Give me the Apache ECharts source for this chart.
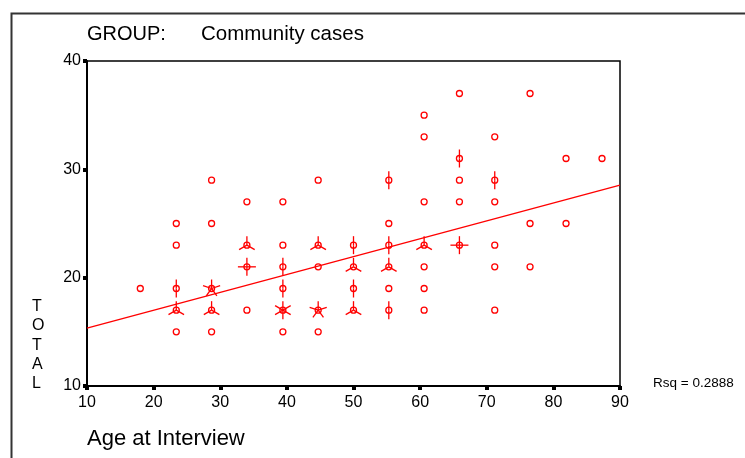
<!DOCTYPE html>
<html>
<head>
<meta charset="utf-8">
<script src="https://cdn.jsdelivr.net/npm/echarts@6/dist/echarts.min.js"></script>
<style>
  html, body { margin: 0; padding: 0; background: #fff; }
  #main { width: 745px; height: 458px; }
</style>
</head>
<body>
<div id="main"></div>
<script>
// sunflower points: age bin, total bin, number of cases (petals)
const ages = [
  18,
  23.4, 23.4, 23.4, 23.4, 23.4,
  28.7, 28.7, 28.7, 28.7, 28.7,
  34, 34, 34, 34,
  39.4, 39.4, 39.4, 39.4, 39.4, 39.4,
  44.7, 44.7, 44.7, 44.7, 44.7,
  50, 50, 50, 50,
  55.3, 55.3, 55.3, 55.3, 55.3, 55.3,
  60.6, 60.6, 60.6, 60.6, 60.6, 60.6, 60.6,
  65.9, 65.9, 65.9, 65.9, 65.9,
  71.2, 71.2, 71.2, 71.2, 71.2, 71.2,
  76.5, 76.5, 76.5,
  81.9, 81.9,
  87.3
];
const totals = [
  19,
  25, 23, 19, 17, 15,
  29, 25, 19, 17, 15,
  27, 23, 21, 17,
  27, 23, 21, 19, 17, 15,
  29, 23, 21, 17, 15,
  23, 21, 19, 17,
  29, 25, 23, 21, 19, 17,
  35, 33, 27, 23, 21, 19, 17,
  37, 31, 29, 27, 23,
  33, 29, 27, 23, 21, 17,
  37, 25, 21,
  31, 25,
  31
];
const counts = [
  1,
  1, 1, 2, 3, 1,
  1, 1, 5, 3, 1,
  1, 3, 4, 1,
  1, 1, 2, 2, 6, 1,
  1, 3, 1, 5, 1,
  2, 3, 2, 3,
  2, 1, 2, 3, 1, 2,
  1, 1, 1, 3, 1, 1, 1,
  1, 2, 1, 1, 4,
  1, 2, 1, 1, 1, 1,
  1, 1, 1,
  1, 1,
  1
];
// fitted line end points
const fitX = [10, 90];
const fitY = [15.35, 28.55];
const xTicks = [10, 20, 30, 40, 50, 60, 70, 80, 90];
const yTicks = [10, 20, 30, 40];

const RED = '#ff0000';
const FONT = 'Liberation Sans';

let chart = echarts.init(document.getElementById('main'));

const flowerData = ages.map((a, i) => [a, totals[i], counts[i]]);

function renderFlower(params, api) {
  const p = api.coord([api.value(0), api.value(1)]);
  const n = api.value(2);
  const kids = [{
    type: 'circle',
    shape: { cx: p[0], cy: p[1], r: 3 },
    style: { fill: null, stroke: RED, lineWidth: 1.3 }
  }];
  if (n > 1) {
    for (let k = 0; k < n; k++) {
      const ang = k * 2 * Math.PI / n;
      kids.push({
        type: 'line',
        shape: { x1: p[0], y1: p[1], x2: p[0] + 9 * Math.sin(ang), y2: p[1] - 9 * Math.cos(ang) },
        style: { stroke: RED, lineWidth: 1.3 }
      });
    }
  }
  return { type: 'group', children: kids };
}

chart.setOption({
  backgroundColor: '#fff',
  animation: false,
  textStyle: { fontFamily: FONT },
  grid: {
    left: 87, right: 125, top: 61, bottom: 72,
    show: true, borderColor: '#000', borderWidth: 1.5
  },
  xAxis: {
    type: 'value', min: 10, max: 90, interval: 10,
    axisLine: { show: true, lineStyle: { color: '#000', width: 2 } },
    axisTick: { show: true, length: 4, lineStyle: { color: '#000', width: 4 } },
    splitLine: { show: false },
    axisLabel: {
      color: '#000', fontSize: 16, fontFamily: FONT, margin: 9,
      formatter: v => xTicks.includes(v) ? String(v) : ''
    }
  },
  yAxis: {
    type: 'value', min: 10, max: 40, interval: 10,
    axisLine: { show: true, lineStyle: { color: '#000', width: 2 } },
    axisTick: { show: true, length: 4, lineStyle: { color: '#000', width: 4 } },
    splitLine: { show: false },
    axisLabel: {
      color: '#000', fontSize: 16, fontFamily: FONT, margin: 6,
      formatter: v => yTicks.includes(v) ? String(v) : ''
    }
  },
  series: [
    {
      type: 'line',
      data: fitX.map((x, i) => [x, fitY[i]]),
      showSymbol: false,
      lineStyle: { color: RED, width: 1.3 },
      silent: true,
      z: 3
    },
    {
      type: 'custom',
      data: flowerData,
      renderItem: renderFlower,
      z: 4
    }
  ],
  graphic: [
    {
      type: 'rect', left: 9, top: 11, silent: true,
      shape: { x: 0, y: 0, width: 800, height: 600 },
      style: { fill: null, stroke: '#333', lineWidth: 2 }
    },
    {
      type: 'text', left: 87, top: 24,
      style: { text: 'GROUP:', fill: '#000', font: '20px ' + FONT }
    },
    {
      type: 'text', left: 201, top: 24,
      style: { text: 'Community cases', fill: '#000', font: '20.5px ' + FONT }
    },
    {
      type: 'text', left: 32, top: 297,
      style: { text: 'T\nO\nT\nA\nL', fill: '#000', font: '16px ' + FONT, lineHeight: 19.3, align: 'center' }
    },
    {
      type: 'text', left: 87, top: 428,
      style: { text: 'Age at Interview', fill: '#000', font: '22px ' + FONT }
    },
    {
      type: 'text', left: 653, top: 376,
      style: { text: 'Rsq = 0.2888', fill: '#000', font: '13.5px ' + FONT }
    }
  ]
});

window.addEventListener('resize', function () {
  chart.resize();
});
</script>
</body>
</html>
